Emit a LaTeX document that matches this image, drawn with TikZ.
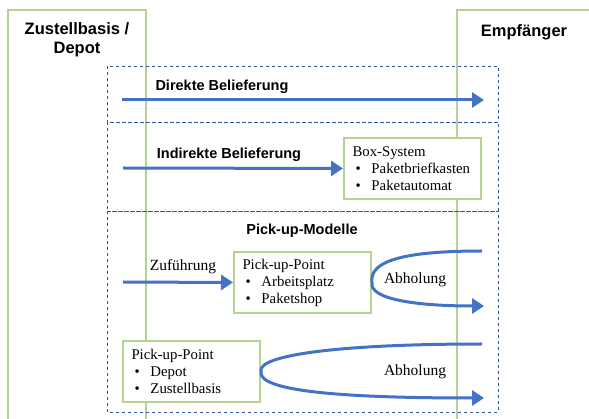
\documentclass[tikz,border=0pt]{standalone}
\usepackage{fontspec}
\setmainfont{Liberation Serif}
\setsansfont{Liberation Sans}
\usepackage{tikz}
\usetikzlibrary{arrows.meta}

\definecolor{laneGreen}{HTML}{B4D391}
\definecolor{flowBlue}{HTML}{4472C4}
\definecolor{zoneBlue}{HTML}{2F5597}

\begin{document}
\begin{tikzpicture}[x=1pt, y=-1pt, line width=1pt,
    lane/.style={draw=laneGreen, line width=2pt},
    zone/.style={draw=zoneBlue, dashed, line width=0.8pt},
    flow/.style={draw=flowBlue, line width=3pt, -{Triangle[length=12pt, width=15pt]}},
    head/.style={font=\sffamily\bfseries\fontsize{16.5}{19}\selectfont},
    title/.style={font=\sffamily\bfseries\fontsize{14.5}{17}\selectfont},
    label/.style={font=\fontsize{15.5}{17}\selectfont},
    station/.style={draw=laneGreen, line width=2pt, fill=white, anchor=north west,
        minimum width=137pt, minimum height=61pt, text width=120pt, inner xsep=8.5pt,
        align=left, font=\fontsize{14.8}{17}\selectfont}]

\newcommand{\itm}{\makebox[19pt][l]{\hspace{3pt}\textbullet}}

\useasboundingbox (0,0) rectangle (589,419);

% draw swim lanes
\draw[lane] (8,419) -- (8,10) -- (146,10) -- (146,419);
\draw[lane] (589,10) -- (457,10) -- (457,419);

\node[head, align=center] (depot) at (77,40) {Zustellbasis /\\Depot};
\node[head] (empf) at (524,32) {Empfänger};

% draw dashed zones
\foreach \t/\b in {66/122, 122/211, 211/412}
{
    \draw[zone] (107,\t) rectangle (498,\b);
}

% direkte Belieferung
\node[title] (direkt) at (222,87) {Direkte Belieferung};
\coordinate (d0) at (122,100);
\coordinate (d1) at (484,100);
\draw[flow] (d0) -- (d1);

% indirekte Belieferung
\node[title] (indirekt) at (229,155) {Indirekte Belieferung};
\node[station] (box) at (343,137) {Box-System\\\itm Paketbriefkasten\\\itm Paketautomat};
\coordinate (i0) at (123,168);
\draw[flow] (i0) -- (box.west);

% pick-up Modelle
\node[title] (pickup) at (302,231) {Pick-up-Modelle};

\node[label] (zuf) at (183,267) {Zuführung};
\node[station] (pp1) at (233,251) {Pick-up-Point\\\itm Arbeitsplatz\\\itm Paketshop};
\coordinate (z0) at (123,282);
\draw[flow] (z0) -- (pp1.west);

\node[station] (pp2) at (122,340) {Pick-up-Point\\\itm Depot\\\itm Zustellbasis};

\node[label] (ab1) at (415,280) {Abholung};
\node[label] (ab2) at (415,372) {Abholung};

% draw Abholung loops
\coordinate (a1s) at (482,251);
\coordinate (a1e) at (484,306);
\coordinate (a2s) at (482,344);
\coordinate (a2e) at (484,398);
\draw[flow] (a1s) .. controls (400,251) and (369,262) .. (pp1.east) .. controls (369,300) and (420,306) .. (a1e);
\draw[flow] (a2s) .. controls (340,344) and (257,355) .. (pp2.east) .. controls (257,392) and (350,398) .. (a2e);

\end{tikzpicture}
\end{document}
